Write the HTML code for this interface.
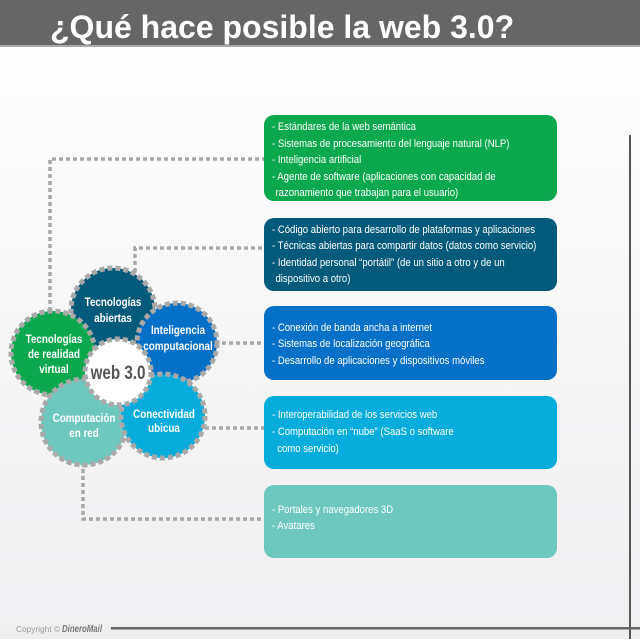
<!DOCTYPE html>
<html><head><meta charset="utf-8"><style>
html,body{margin:0;padding:0;}
body{width:640px;height:639px;overflow:hidden;}
</style></head><body>
<svg width="640" height="639" viewBox="0 0 640 639" xmlns="http://www.w3.org/2000/svg" font-family="Liberation Sans, sans-serif">
<defs>
<linearGradient id="bg" x1="0" y1="0" x2="0" y2="1">
<stop offset="0" stop-color="#ffffff"/><stop offset="1" stop-color="#efeff1"/>
</linearGradient>
</defs>
<rect width="640" height="639" fill="url(#bg)"/>
<rect width="640" height="45" fill="#666666"/>
<rect y="45" width="640" height="2" fill="#aaaaaa"/>
<g transform="translate(50,0) scale(1,1)">
<text x="0" y="38" font-size="32" font-weight="bold" fill="#fff">¿Qué hace posible la web 3.0?</text>
</g>

<rect x="629" y="135" width="2" height="504" fill="#555"/>
<rect x="111" y="627" width="529" height="2.5" fill="#666"/>
<text x="16" y="632" font-size="8" fill="#999" textLength="44" lengthAdjust="spacingAndGlyphs">Copyright ©</text>
<text x="62" y="632" font-size="10" font-weight="bold" font-style="italic" fill="#777" textLength="40" lengthAdjust="spacingAndGlyphs">DineroMail</text>

<g stroke="#a8a8a8" stroke-width="3.5" stroke-dasharray="4 3" fill="none">
<path d="M50 318 V159 H264"/>
<path d="M135 272 V248 H264"/>
<path d="M215 343 H264"/>
<path d="M205 428 H264"/>
<path d="M83 462 V519 H264"/>
</g>

<rect x="264" y="115" width="293" height="86" rx="10" fill="#0ba84e"/>
<rect x="264" y="218" width="293" height="73" rx="10" fill="#035a7a"/>
<rect x="264" y="306" width="293" height="74" rx="10" fill="#0570c7"/>
<rect x="264" y="396" width="293" height="73" rx="10" fill="#06acdc"/>
<rect x="264" y="485" width="293" height="73" rx="10" fill="#6ec8bd"/>

<g fill="#fff" font-size="11">
<g transform="translate(272,0) scale(0.87,1)">
<text x="0" y="130">- Estándares de la web semántica</text>
<text x="0" y="147">- Sistemas de procesamiento del lenguaje natural (NLP)</text>
<text x="0" y="163">- Inteligencia artificial</text>
<text x="0" y="180">- Agente de software (aplicaciones con capacidad de</text>
<text x="4" y="196">razonamiento que trabajan para el usuario)</text>
<text x="0" y="233">- Código abierto para desarrollo de plataformas y aplicaciones</text>
<text x="0" y="249">- Técnicas abiertas para compartir datos (datos como servicio)</text>
<text x="0" y="266">- Identidad personal “portátil” (de un sitio a otro y de un</text>
<text x="4" y="282">dispositivo a otro)</text>
<text x="0" y="331">- Conexión de banda ancha a internet</text>
<text x="0" y="347">- Sistemas de localización geográfica</text>
<text x="0" y="364">- Desarrollo de aplicaciones y dispositivos móviles</text>
<text x="0" y="418">- Interoperabilidad de los servicios web</text>
<text x="0" y="435">- Computación en “nube” (SaaS o software</text>
<text x="6" y="452">como servicio)</text>
<text x="0" y="513">- Portales y navegadores 3D</text>
<text x="0" y="529">- Avatares</text>
</g>
</g>

<g stroke="#a9a9a9" stroke-width="5" stroke-dasharray="5 3">
<circle cx="113" cy="310" r="42" fill="#035a7a"/>
<circle cx="177" cy="343" r="40" fill="#0570c7"/>
<circle cx="53" cy="353" r="42" fill="#0ba84e"/>
<circle cx="84" cy="422" r="43" fill="#6ec8bd"/>
<circle cx="163" cy="416" r="42" fill="#06acdc"/>
<circle cx="118" cy="372" r="33" fill="#ffffff"/>
</g>

<g fill="#fff" font-size="12" font-weight="bold" text-anchor="middle">
<g transform="translate(113,0) scale(0.82,1)"><text x="0" y="306">Tecnologías</text><text x="0" y="322">abiertas</text></g>
<g transform="translate(178,0) scale(0.82,1)"><text x="0" y="334">Inteligencia</text><text x="0" y="350">computacional</text></g>
<g transform="translate(54,0) scale(0.82,1)"><text x="0" y="343">Tecnologías</text><text x="0" y="358">de realidad</text><text x="0" y="373">virtual</text></g>
<g transform="translate(84,0) scale(0.82,1)"><text x="0" y="422">Computación</text><text x="0" y="437">en red</text></g>
<g transform="translate(164,0) scale(0.82,1)"><text x="0" y="418">Conectividad</text><text x="0" y="432">ubicua</text></g>
<g transform="translate(118,0) scale(0.8,1)"><text x="0" y="379" font-size="19" font-weight="bold" fill="#555">web 3.0</text></g>
</g>
</svg>
</body></html>
